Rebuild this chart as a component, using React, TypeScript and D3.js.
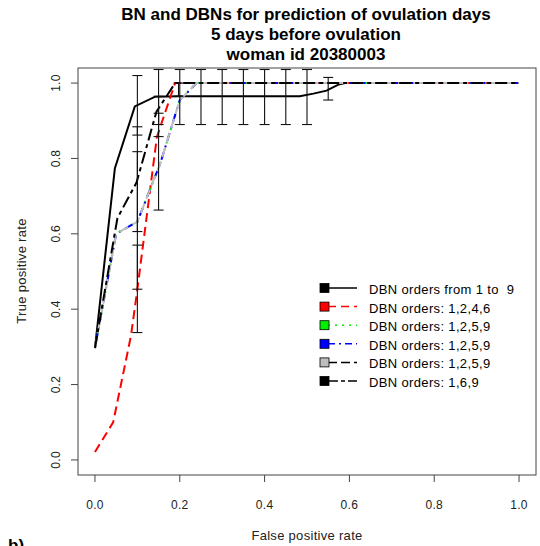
import React from "react";
import * as d3 from "d3";

const titleLines = [
  "BN and DBNs for prediction of ovulation days",
  "5 days before ovulation",
  "woman id 20380003",
];
const xLabel = "False positive rate";
const yLabel = "True positive rate";
const ticks = [0, 0.2, 0.4, 0.6, 0.8, 1.0];

const legendLabels = [
  "DBN orders from 1 to\u00a0\u00a09",
  "DBN orders: 1,2,4,6",
  "DBN orders: 1,2,5,9",
  "DBN orders: 1,2,5,9",
  "DBN orders: 1,2,5,9",
  "DBN orders: 1,6,9",
];

// series 0: solid black
const s0x = [0, 0.047, 0.094, 0.142, 0.2, 0.3, 0.4, 0.483, 0.515, 0.546, 0.574, 0.59, 1.0];
const s0y = [0.297, 0.774, 0.938, 0.964, 0.965, 0.965, 0.965, 0.965, 0.972, 0.98, 0.996, 1.0, 1.0];
// series 1: red dashed
const s1x = [0, 0.043, 0.085, 0.1, 0.146, 0.189, 1.0];
const s1y = [0.021, 0.1, 0.33, 0.453, 0.857, 1.0, 1.0];
// series 2,3,4: green / blue / gray (same values)
const s2x = [0, 0.05, 0.1, 0.155, 0.2, 0.24, 1.0];
const s2y = [0.297, 0.6, 0.632, 0.79, 0.955, 1.0, 1.0];
// series 5: black dash-dot
const s5x = [0, 0.053, 0.098, 0.145, 0.189, 1.0];
const s5y = [0.297, 0.642, 0.736, 0.924, 1.0, 1.0];

const seriesX = [s0x, s1x, s2x, s2x, s2x, s5x];
const seriesY = [s0y, s1y, s2y, s2y, s2y, s5y];

// error bars
const errX = [0.1, 0.1, 0.1, 0.1, 0.15, 0.15, 0.15, 0.197, 0.2, 0.25, 0.3, 0.35, 0.4, 0.45, 0.5, 0.55];
const errLo = [0.862, 0.606, 0.453, 0.338, 0.89, 0.858, 0.663, 0.965, 0.89, 0.89, 0.89, 0.89, 0.89, 0.89, 0.89, 0.955];
const errHi = [1.02, 0.884, 0.818, 0.57, 1.036, 0.965, 0.92, 1.0, 1.036, 1.036, 1.036, 1.036, 1.036, 1.036, 1.036, 1.015];

const colors = ["#000000", "#ff0000", "#00ee00", "#0000ff", "#bebebe", "#000000"];
const dashes = ["", "9,5", "2,5", "2,5,8,5", "10,5", "12,4,4,4"];
const legendDashes = ["", "8,5", "2,5", "7,4,2,4", "9,4", "10,3,4,3"];

export default function App() {
  const W = 540, H = 546;
  const x = d3.scaleLinear().domain([-0.04, 1.04]).range([78, 536]);
  const y = d3.scaleLinear().domain([-0.04, 1.04]).range([475, 68]);
  const font = "'Liberation Sans', Arial, Helvetica, sans-serif";
  const line = d3.line<number>();

  const paths = seriesX.map((xs, i) =>
    line(xs.map((v, j) => [x(v), y(seriesY[i][j])] as [number, number])) as string
  );

  const legY0 = 288, legStep = 18.6;

  return (
    <svg width={W} height={H} style={{ position: "absolute", left: 0, top: 0, background: "#fff" }} fontFamily={font}>
      {titleLines.map((t, i) => (
        <text key={i} x={306} y={20 + i * 19.8} textAnchor="middle" fontWeight="bold" fontSize={17} fill="#000">{t}</text>
      ))}
      {/* box */}
      <rect x={78} y={68} width={458} height={407} fill="none" stroke="#444" strokeWidth={1} />
      {/* x ticks */}
      {ticks.map((t) => (
        <g key={"x" + t}>
          <line x1={x(t)} x2={x(t)} y1={475} y2={482} stroke="#444" />
          <text x={x(t)} y={509} textAnchor="middle" fontSize={12} fill="#222" letterSpacing={0.3}>{t.toFixed(1)}</text>
        </g>
      ))}
      {ticks.map((t) => (
        <g key={"y" + t}>
          <line x1={78} x2={71} y1={y(t)} y2={y(t)} stroke="#444" />
          <text transform={`translate(60,${y(t)}) rotate(-90)`} textAnchor="middle" fontSize={12} fill="#222" letterSpacing={0.3}>{t.toFixed(1)}</text>
        </g>
      ))}
      <text x={307} y={540} textAnchor="middle" fontSize={13} letterSpacing={0.3} fill="#222">{xLabel}</text>
      <text transform={`translate(26,${271}) rotate(-90)`} textAnchor="middle" fontSize={13} letterSpacing={0.3} fill="#222">{yLabel}</text>
      <text x={8} y={551} fontSize={17} fontWeight="bold" fill="#000">b)</text>

      {/* curves */}
      {paths.map((p, i) => (
        <path key={"p" + i} d={p} fill="none" stroke={colors[i]} strokeWidth={2} strokeDasharray={dashes[i]} />
      ))}
      {/* error bars */}
      {errX.map((v, i) => (
        <g key={"e" + i} stroke="#111" strokeWidth={1.1}>
          <line x1={x(v)} x2={x(v)} y1={y(errLo[i])} y2={y(errHi[i])} />
          <line x1={x(v) - 5} x2={x(v) + 5} y1={y(errLo[i])} y2={y(errLo[i])} />
          <line x1={x(v) - 5} x2={x(v) + 5} y1={y(errHi[i])} y2={y(errHi[i])} />
        </g>
      ))}
      {/* legend */}
      {legendLabels.map((lab, i) => {
        const cy = legY0 + i * legStep;
        return (
          <g key={"l" + i}>
            <line x1={328} x2={357} y1={cy} y2={cy} stroke={i === 4 ? "#000" : colors[i]} strokeWidth={1.5} strokeDasharray={legendDashes[i]} />
            <rect x={320} y={cy - 4.5} width={9} height={9} fill={colors[i]} stroke="#000" strokeWidth={0.8} />
            <text x={369} y={cy + 1.5} dominantBaseline="central" fontSize={13} letterSpacing={0.35} fill="#000">{lab}</text>
          </g>
        );
      })}
    </svg>
  );
}
